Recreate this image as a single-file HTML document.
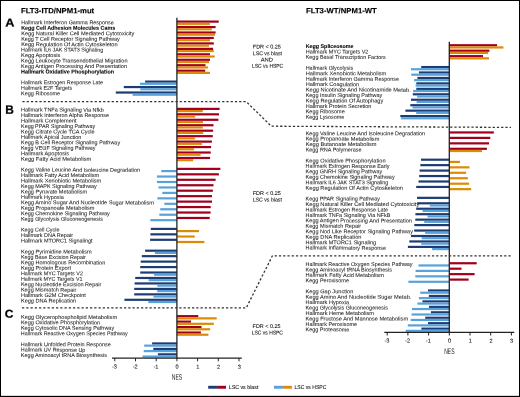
<!DOCTYPE html>
<html><head><meta charset="utf-8"><style>
html,body{margin:0;padding:0;background:#fff;}
svg{display:block;}
text{font-family:"Liberation Sans",sans-serif;text-rendering:geometricPrecision;}
.lab text{font-size:5.5px;fill:#1a1a1a;stroke:#222;stroke-width:0.05px;}
.lab text.b{font-weight:bold;fill:#000;stroke:#000;stroke-width:0.08px;}
</style></head><body>
<svg width="520" height="397" viewBox="0 0 520 397" style="will-change:transform">
<rect x="0" y="0" width="520" height="397" fill="#fff"/>
<g>
<g><rect x="176.9" y="20.5" width="41.8" height="2.2" fill="#a0001c"/>
<rect x="176.9" y="22.7" width="33.1" height="2.2" fill="#dd8b06"/>
<rect x="176.9" y="25.96" width="38.7" height="2.2" fill="#a0001c"/>
<rect x="176.9" y="28.16" width="34.8" height="2.2" fill="#dd8b06"/>
<rect x="176.9" y="31.41" width="38.7" height="2.2" fill="#a0001c"/>
<rect x="176.9" y="33.61" width="38.1" height="2.2" fill="#dd8b06"/>
<rect x="176.9" y="36.86" width="36.9" height="2.2" fill="#a0001c"/>
<rect x="176.9" y="39.06" width="33.1" height="2.2" fill="#dd8b06"/>
<rect x="176.9" y="42.32" width="36.9" height="2.2" fill="#a0001c"/>
<rect x="176.9" y="44.52" width="32.1" height="2.2" fill="#dd8b06"/>
<rect x="176.9" y="47.77" width="36.2" height="2.2" fill="#a0001c"/>
<rect x="176.9" y="49.97" width="36.9" height="2.2" fill="#dd8b06"/>
<rect x="176.9" y="53.23" width="33.1" height="2.2" fill="#a0001c"/>
<rect x="176.9" y="55.43" width="37.8" height="2.2" fill="#dd8b06"/>
<rect x="176.9" y="58.69" width="33.1" height="2.2" fill="#a0001c"/>
<rect x="176.9" y="60.89" width="32.1" height="2.2" fill="#dd8b06"/>
<rect x="176.9" y="64.14" width="28.6" height="2.2" fill="#a0001c"/>
<rect x="176.9" y="66.34" width="31" height="2.2" fill="#dd8b06"/>
<rect x="176.9" y="69.59" width="28.3" height="2.2" fill="#a0001c"/>
<rect x="176.9" y="71.8" width="33.1" height="2.2" fill="#dd8b06"/>
<rect x="145.1" y="80.5" width="31.8" height="2.2" fill="#1e3c74"/>
<rect x="140" y="82.7" width="36.9" height="2.2" fill="#58a2dc"/>
<rect x="123.8" y="85.96" width="53.1" height="2.2" fill="#1e3c74"/>
<rect x="140.3" y="88.16" width="36.6" height="2.2" fill="#58a2dc"/>
<rect x="115.8" y="91.42" width="61.1" height="2.2" fill="#1e3c74"/>
<rect x="132.6" y="93.62" width="44.3" height="2.2" fill="#58a2dc"/>
<rect x="176.9" y="107.78" width="42.7" height="2.2" fill="#a0001c"/>
<rect x="176.9" y="109.98" width="25.9" height="2.2" fill="#dd8b06"/>
<rect x="176.9" y="113.23" width="42.1" height="2.2" fill="#a0001c"/>
<rect x="176.9" y="115.44" width="18.3" height="2.2" fill="#dd8b06"/>
<rect x="176.9" y="118.69" width="41.5" height="2.2" fill="#a0001c"/>
<rect x="176.9" y="120.89" width="26.1" height="2.2" fill="#dd8b06"/>
<rect x="176.9" y="124.14" width="36.6" height="2.2" fill="#a0001c"/>
<rect x="176.9" y="126.34" width="25.9" height="2.2" fill="#dd8b06"/>
<rect x="176.9" y="129.6" width="36.2" height="2.2" fill="#a0001c"/>
<rect x="176.9" y="131.8" width="26.3" height="2.2" fill="#dd8b06"/>
<rect x="176.9" y="135.06" width="35.9" height="2.2" fill="#a0001c"/>
<rect x="176.9" y="137.25" width="18" height="2.2" fill="#dd8b06"/>
<rect x="176.9" y="140.51" width="35" height="2.2" fill="#a0001c"/>
<rect x="176.9" y="142.71" width="25.1" height="2.2" fill="#dd8b06"/>
<rect x="176.9" y="145.97" width="34.2" height="2.2" fill="#a0001c"/>
<rect x="176.9" y="148.16" width="17" height="2.2" fill="#dd8b06"/>
<rect x="176.9" y="151.42" width="33.8" height="2.2" fill="#a0001c"/>
<rect x="176.9" y="153.62" width="23.7" height="2.2" fill="#dd8b06"/>
<rect x="176.9" y="156.88" width="33.2" height="2.2" fill="#a0001c"/>
<rect x="176.9" y="159.07" width="16.2" height="2.2" fill="#dd8b06"/>
<rect x="176.9" y="167.78" width="43.5" height="2.2" fill="#a0001c"/>
<rect x="161.3" y="169.98" width="15.6" height="2.2" fill="#58a2dc"/>
<rect x="176.9" y="173.24" width="42" height="2.2" fill="#a0001c"/>
<rect x="156.9" y="175.44" width="20" height="2.2" fill="#58a2dc"/>
<rect x="176.9" y="178.69" width="38.7" height="2.2" fill="#a0001c"/>
<rect x="156.9" y="180.89" width="20" height="2.2" fill="#58a2dc"/>
<rect x="176.9" y="184.15" width="36.6" height="2.2" fill="#a0001c"/>
<rect x="158.5" y="186.35" width="18.4" height="2.2" fill="#58a2dc"/>
<rect x="176.9" y="189.6" width="36" height="2.2" fill="#a0001c"/>
<rect x="162.3" y="191.8" width="14.6" height="2.2" fill="#58a2dc"/>
<rect x="176.9" y="195.06" width="35.1" height="2.2" fill="#a0001c"/>
<rect x="157.4" y="197.26" width="19.5" height="2.2" fill="#58a2dc"/>
<rect x="176.9" y="200.52" width="35.1" height="2.2" fill="#a0001c"/>
<rect x="164.3" y="202.72" width="12.6" height="2.2" fill="#58a2dc"/>
<rect x="176.9" y="205.97" width="33.8" height="2.2" fill="#a0001c"/>
<rect x="160.2" y="208.17" width="16.7" height="2.2" fill="#58a2dc"/>
<rect x="176.9" y="211.43" width="33.7" height="2.2" fill="#a0001c"/>
<rect x="159.3" y="213.62" width="17.6" height="2.2" fill="#58a2dc"/>
<rect x="176.9" y="216.88" width="32.8" height="2.2" fill="#a0001c"/>
<rect x="150.3" y="219.08" width="26.6" height="2.2" fill="#58a2dc"/>
<rect x="150.8" y="227.79" width="26.1" height="2.2" fill="#1e3c74"/>
<rect x="176.9" y="229.99" width="22.1" height="2.2" fill="#dd8b06"/>
<rect x="150.4" y="233.25" width="26.5" height="2.2" fill="#1e3c74"/>
<rect x="176.9" y="235.44" width="17.9" height="2.2" fill="#dd8b06"/>
<rect x="150.1" y="238.7" width="26.8" height="2.2" fill="#1e3c74"/>
<rect x="176.9" y="240.9" width="27.5" height="2.2" fill="#dd8b06"/>
<rect x="145.1" y="249.61" width="31.8" height="2.2" fill="#1e3c74"/>
<rect x="154.9" y="251.81" width="22" height="2.2" fill="#58a2dc"/>
<rect x="141.8" y="255.06" width="35.1" height="2.2" fill="#1e3c74"/>
<rect x="140.7" y="260.52" width="36.2" height="2.2" fill="#1e3c74"/>
<rect x="140.2" y="265.98" width="36.7" height="2.2" fill="#1e3c74"/>
<rect x="140.2" y="271.43" width="36.7" height="2.2" fill="#1e3c74"/>
<rect x="154.1" y="273.63" width="22.8" height="2.2" fill="#58a2dc"/>
<rect x="135.2" y="276.88" width="41.7" height="2.2" fill="#1e3c74"/>
<rect x="148.6" y="279.08" width="28.3" height="2.2" fill="#58a2dc"/>
<rect x="134.6" y="282.34" width="42.3" height="2.2" fill="#1e3c74"/>
<rect x="157.3" y="284.54" width="19.6" height="2.2" fill="#58a2dc"/>
<rect x="134.2" y="287.8" width="42.7" height="2.2" fill="#1e3c74"/>
<rect x="157.2" y="290" width="19.7" height="2.2" fill="#58a2dc"/>
<rect x="134.2" y="293.25" width="42.7" height="2.2" fill="#1e3c74"/>
<rect x="153.4" y="295.45" width="23.5" height="2.2" fill="#58a2dc"/>
<rect x="124.4" y="298.7" width="52.5" height="2.2" fill="#1e3c74"/>
<rect x="148.3" y="300.9" width="28.6" height="2.2" fill="#58a2dc"/>
<rect x="176.9" y="315.07" width="21.4" height="2.2" fill="#a0001c"/>
<rect x="176.9" y="317.27" width="39.8" height="2.2" fill="#dd8b06"/>
<rect x="176.9" y="320.52" width="14.1" height="2.2" fill="#a0001c"/>
<rect x="176.9" y="322.72" width="36.9" height="2.2" fill="#dd8b06"/>
<rect x="176.9" y="325.98" width="24.6" height="2.2" fill="#a0001c"/>
<rect x="176.9" y="328.18" width="33.3" height="2.2" fill="#dd8b06"/>
<rect x="176.9" y="331.44" width="24" height="2.2" fill="#a0001c"/>
<rect x="176.9" y="333.63" width="31.5" height="2.2" fill="#dd8b06"/>
<rect x="152.1" y="342.35" width="24.8" height="2.2" fill="#1e3c74"/>
<rect x="144.2" y="344.55" width="32.7" height="2.2" fill="#58a2dc"/>
<rect x="153.3" y="347.8" width="23.6" height="2.2" fill="#1e3c74"/>
<rect x="143.7" y="350" width="33.2" height="2.2" fill="#58a2dc"/>
<rect x="157.9" y="353.25" width="19" height="2.2" fill="#1e3c74"/>
<rect x="142.5" y="355.45" width="34.4" height="2.2" fill="#58a2dc"/>
<rect x="449.3" y="44.15" width="47.8" height="2.2" fill="#a0001c"/>
<rect x="449.3" y="46.35" width="54.1" height="2.2" fill="#dd8b06"/>
<rect x="449.3" y="49.6" width="40.1" height="2.2" fill="#a0001c"/>
<rect x="449.3" y="51.8" width="38.9" height="2.2" fill="#dd8b06"/>
<rect x="449.3" y="55.05" width="33.7" height="2.2" fill="#a0001c"/>
<rect x="449.3" y="57.25" width="39.7" height="2.2" fill="#dd8b06"/>
<rect x="421.2" y="65.95" width="28.1" height="2.2" fill="#1e3c74"/>
<rect x="411" y="68.15" width="38.3" height="2.2" fill="#58a2dc"/>
<rect x="418.9" y="71.4" width="30.4" height="2.2" fill="#1e3c74"/>
<rect x="411.3" y="73.6" width="38" height="2.2" fill="#58a2dc"/>
<rect x="417.4" y="76.85" width="31.9" height="2.2" fill="#1e3c74"/>
<rect x="414.1" y="79.05" width="35.2" height="2.2" fill="#58a2dc"/>
<rect x="416.3" y="82.3" width="33" height="2.2" fill="#1e3c74"/>
<rect x="415.6" y="84.5" width="33.7" height="2.2" fill="#58a2dc"/>
<rect x="416.3" y="87.75" width="33" height="2.2" fill="#1e3c74"/>
<rect x="413.1" y="89.95" width="36.2" height="2.2" fill="#58a2dc"/>
<rect x="412.8" y="93.2" width="36.5" height="2.2" fill="#1e3c74"/>
<rect x="417.1" y="95.4" width="32.2" height="2.2" fill="#58a2dc"/>
<rect x="411" y="98.65" width="38.3" height="2.2" fill="#1e3c74"/>
<rect x="416.6" y="100.85" width="32.7" height="2.2" fill="#58a2dc"/>
<rect x="410.3" y="104.1" width="39" height="2.2" fill="#1e3c74"/>
<rect x="412.5" y="106.3" width="36.8" height="2.2" fill="#58a2dc"/>
<rect x="405.4" y="109.55" width="43.9" height="2.2" fill="#1e3c74"/>
<rect x="416.2" y="111.75" width="33.1" height="2.2" fill="#58a2dc"/>
<rect x="400.3" y="115" width="49" height="2.2" fill="#1e3c74"/>
<rect x="401.1" y="117.2" width="48.2" height="2.2" fill="#58a2dc"/>
<rect x="449.3" y="131.35" width="44.5" height="2.2" fill="#a0001c"/>
<rect x="449.3" y="136.8" width="41" height="2.2" fill="#a0001c"/>
<rect x="449.3" y="142.25" width="39.7" height="2.2" fill="#a0001c"/>
<rect x="449.3" y="147.7" width="37.6" height="2.2" fill="#a0001c"/>
<rect x="449.3" y="149.9" width="32.7" height="2.2" fill="#dd8b06"/>
<rect x="421" y="158.6" width="28.3" height="2.2" fill="#1e3c74"/>
<rect x="449.3" y="160.8" width="10.7" height="2.2" fill="#dd8b06"/>
<rect x="420.3" y="164.05" width="29" height="2.2" fill="#1e3c74"/>
<rect x="449.3" y="166.25" width="20.2" height="2.2" fill="#dd8b06"/>
<rect x="419.6" y="169.5" width="29.7" height="2.2" fill="#1e3c74"/>
<rect x="449.3" y="171.7" width="16.8" height="2.2" fill="#dd8b06"/>
<rect x="419.2" y="174.95" width="30.1" height="2.2" fill="#1e3c74"/>
<rect x="449.3" y="177.15" width="18.6" height="2.2" fill="#dd8b06"/>
<rect x="418.5" y="180.4" width="30.8" height="2.2" fill="#1e3c74"/>
<rect x="449.3" y="182.6" width="19.8" height="2.2" fill="#dd8b06"/>
<rect x="416.2" y="185.85" width="33.1" height="2.2" fill="#1e3c74"/>
<rect x="449.3" y="188.05" width="21.9" height="2.2" fill="#dd8b06"/>
<rect x="417" y="196.75" width="32.3" height="2.2" fill="#1e3c74"/>
<rect x="417.2" y="202.2" width="32.1" height="2.2" fill="#1e3c74"/>
<rect x="429.8" y="204.4" width="19.5" height="2.2" fill="#58a2dc"/>
<rect x="416.2" y="207.65" width="33.1" height="2.2" fill="#1e3c74"/>
<rect x="422.5" y="209.85" width="26.8" height="2.2" fill="#58a2dc"/>
<rect x="415.4" y="213.1" width="33.9" height="2.2" fill="#1e3c74"/>
<rect x="427.5" y="215.3" width="21.8" height="2.2" fill="#58a2dc"/>
<rect x="415.3" y="218.55" width="34" height="2.2" fill="#1e3c74"/>
<rect x="424.2" y="220.75" width="25.1" height="2.2" fill="#58a2dc"/>
<rect x="414.3" y="224" width="35" height="2.2" fill="#1e3c74"/>
<rect x="414.2" y="229.45" width="35.1" height="2.2" fill="#1e3c74"/>
<rect x="425.1" y="231.65" width="24.2" height="2.2" fill="#58a2dc"/>
<rect x="411" y="234.9" width="38.3" height="2.2" fill="#1e3c74"/>
<rect x="421.7" y="237.1" width="27.6" height="2.2" fill="#58a2dc"/>
<rect x="409.3" y="240.35" width="40" height="2.2" fill="#1e3c74"/>
<rect x="421.2" y="242.55" width="28.1" height="2.2" fill="#58a2dc"/>
<rect x="407.9" y="245.8" width="41.4" height="2.2" fill="#1e3c74"/>
<rect x="432.1" y="248" width="17.2" height="2.2" fill="#58a2dc"/>
<rect x="449.3" y="262.15" width="27.4" height="2.2" fill="#a0001c"/>
<rect x="418.5" y="264.35" width="30.8" height="2.2" fill="#58a2dc"/>
<rect x="449.3" y="267.6" width="12.2" height="2.2" fill="#a0001c"/>
<rect x="415.6" y="269.8" width="33.7" height="2.2" fill="#58a2dc"/>
<rect x="449.3" y="273.05" width="25.3" height="2.2" fill="#a0001c"/>
<rect x="415.3" y="275.25" width="34" height="2.2" fill="#58a2dc"/>
<rect x="449.3" y="278.5" width="19.3" height="2.2" fill="#a0001c"/>
<rect x="408.4" y="280.7" width="40.9" height="2.2" fill="#58a2dc"/>
<rect x="428" y="289.4" width="21.3" height="2.2" fill="#1e3c74"/>
<rect x="420.2" y="291.6" width="29.1" height="2.2" fill="#58a2dc"/>
<rect x="428.8" y="294.85" width="20.5" height="2.2" fill="#1e3c74"/>
<rect x="418.9" y="297.05" width="30.4" height="2.2" fill="#58a2dc"/>
<rect x="422.4" y="300.3" width="26.9" height="2.2" fill="#1e3c74"/>
<rect x="417.4" y="302.5" width="31.9" height="2.2" fill="#58a2dc"/>
<rect x="429" y="305.75" width="20.3" height="2.2" fill="#1e3c74"/>
<rect x="412" y="307.95" width="37.3" height="2.2" fill="#58a2dc"/>
<rect x="430.9" y="311.2" width="18.4" height="2.2" fill="#1e3c74"/>
<rect x="411.6" y="313.4" width="37.7" height="2.2" fill="#58a2dc"/>
<rect x="425.2" y="316.65" width="24.1" height="2.2" fill="#1e3c74"/>
<rect x="410.7" y="318.85" width="38.6" height="2.2" fill="#58a2dc"/>
<rect x="428" y="322.1" width="21.3" height="2.2" fill="#1e3c74"/>
<rect x="407.8" y="324.3" width="41.5" height="2.2" fill="#58a2dc"/>
<rect x="421.4" y="327.55" width="27.9" height="2.2" fill="#1e3c74"/>
<rect x="405.7" y="329.75" width="43.6" height="2.2" fill="#58a2dc"/></g>
<g class="lab" transform="rotate(0.05 21 190)"><text x="21" y="24.3" textLength="92.6" lengthAdjust="spacingAndGlyphs">Hallmark Interferon Gamma Response</text>
<text x="21" y="29.76" class="b" textLength="94" lengthAdjust="spacingAndGlyphs">Kegg Cell Adhesion Molecules Cams</text>
<text x="21" y="35.21" textLength="113.3" lengthAdjust="spacingAndGlyphs">Kegg Natural Killer Cell Mediated Cytotoxicity</text>
<text x="21" y="40.66" textLength="98.6" lengthAdjust="spacingAndGlyphs">Kegg T Cell Receptor Signaling Pathway</text>
<text x="21" y="46.12" textLength="96.4" lengthAdjust="spacingAndGlyphs">Kegg Regulation Of Actin Cytoskeleton</text>
<text x="21" y="51.57" textLength="82" lengthAdjust="spacingAndGlyphs">Hallmark IL6 JAK STAT3 Signaling</text>
<text x="21" y="57.03" textLength="39.3" lengthAdjust="spacingAndGlyphs">Kegg Apoptosis</text>
<text x="21" y="62.49" textLength="106.4" lengthAdjust="spacingAndGlyphs">Kegg Leukocyte Transendothelial Migration</text>
<text x="21" y="67.94" textLength="105.9" lengthAdjust="spacingAndGlyphs">Kegg Antigen Processing And Presentation</text>
<text x="21" y="73.39" class="b" textLength="92.9" lengthAdjust="spacingAndGlyphs">Hallmark Oxidative Phosphorylation</text>
<text x="21" y="84.3" textLength="81.8" lengthAdjust="spacingAndGlyphs">Hallmark Estrogen Response Late</text>
<text x="21" y="89.76" textLength="51" lengthAdjust="spacingAndGlyphs">Hallmark E2F Targets</text>
<text x="21" y="95.22" textLength="39.1" lengthAdjust="spacingAndGlyphs">Kegg Ribosome</text>
<text x="21" y="111.58" textLength="82.8" lengthAdjust="spacingAndGlyphs">Hallmark TNFa Signaling Via Nfkb</text>
<text x="21" y="117.03" textLength="88" lengthAdjust="spacingAndGlyphs">Hallmark Interferon Alpha Response</text>
<text x="21" y="122.49" textLength="55.5" lengthAdjust="spacingAndGlyphs">Hallmark Complement</text>
<text x="21" y="127.94" textLength="74.1" lengthAdjust="spacingAndGlyphs">Kegg PPAR Signaling Pathway</text>
<text x="21" y="133.4" textLength="73.5" lengthAdjust="spacingAndGlyphs">Kegg Citrate Cycle TCA Cycle</text>
<text x="21" y="138.85" textLength="60.3" lengthAdjust="spacingAndGlyphs">Hallmark Apical Junction</text>
<text x="21" y="144.31" textLength="99.1" lengthAdjust="spacingAndGlyphs">Kegg B Cell Receptor Signaling Pathway</text>
<text x="21" y="149.76" textLength="74.5" lengthAdjust="spacingAndGlyphs">Kegg VEGF Signaling Pathway</text>
<text x="21" y="155.22" textLength="48.1" lengthAdjust="spacingAndGlyphs">Hallmark Apoptosis</text>
<text x="21" y="160.67" textLength="70.3" lengthAdjust="spacingAndGlyphs">Kegg Fatty Acid Metabolism</text>
<text x="21" y="171.58" textLength="119.1" lengthAdjust="spacingAndGlyphs">Kegg Valine Leucine And Isoleucine Degradation</text>
<text x="21" y="177.04" textLength="78.1" lengthAdjust="spacingAndGlyphs">Hallmark Fatty Acid Metabolism</text>
<text x="21" y="182.49" textLength="80.1" lengthAdjust="spacingAndGlyphs">Hallmark Xenobiotic Metabolism</text>
<text x="21" y="187.95" textLength="75.8" lengthAdjust="spacingAndGlyphs">Kegg MAPK Signaling Pathway</text>
<text x="21" y="193.4" textLength="66.2" lengthAdjust="spacingAndGlyphs">Kegg Pyruvate Metabolism</text>
<text x="21" y="198.86" textLength="42.8" lengthAdjust="spacingAndGlyphs">Hallmark Hypoxia</text>
<text x="21" y="204.31" textLength="133" lengthAdjust="spacingAndGlyphs">Kegg Amino Sugar And Nucleotide Sugar Metabolism</text>
<text x="21" y="209.77" textLength="73.5" lengthAdjust="spacingAndGlyphs">Kegg Propanoate Metabolism</text>
<text x="21" y="215.22" textLength="88.7" lengthAdjust="spacingAndGlyphs">Kegg Chemokine Signaling Pathway</text>
<text x="21" y="220.68" textLength="82" lengthAdjust="spacingAndGlyphs">Kegg Glycolysis Gluconeogenesis</text>
<text x="21" y="231.59" textLength="38.5" lengthAdjust="spacingAndGlyphs">Kegg Cell Cycle</text>
<text x="21" y="237.04" textLength="52" lengthAdjust="spacingAndGlyphs">Hallmark DNA Repair</text>
<text x="21" y="242.5" textLength="71.6" lengthAdjust="spacingAndGlyphs">Hallmark MTORC1 Signalingt</text>
<text x="21" y="253.41" textLength="70.8" lengthAdjust="spacingAndGlyphs">Kegg Pyrimidine Metabolism</text>
<text x="21" y="258.87" textLength="64.9" lengthAdjust="spacingAndGlyphs">Kegg Base Excision Repair</text>
<text x="21" y="264.32" textLength="84.3" lengthAdjust="spacingAndGlyphs">Kegg Homologous Recombination</text>
<text x="21" y="269.78" textLength="50.1" lengthAdjust="spacingAndGlyphs">Kegg Protein Export</text>
<text x="21" y="275.23" textLength="62" lengthAdjust="spacingAndGlyphs">Hallmark MYC Targets V2</text>
<text x="21" y="280.69" textLength="61.6" lengthAdjust="spacingAndGlyphs">Hallmark MYC Targets V1</text>
<text x="21" y="286.14" textLength="80.5" lengthAdjust="spacingAndGlyphs">Kegg Nucleotide Excision Repair</text>
<text x="21" y="291.6" textLength="55.5" lengthAdjust="spacingAndGlyphs">Kegg Mismatch Repair</text>
<text x="21" y="297.05" textLength="64.9" lengthAdjust="spacingAndGlyphs">Hallmark G2M Checkpoint</text>
<text x="21" y="302.5" textLength="55.3" lengthAdjust="spacingAndGlyphs">Kegg DNA Replication</text>
<text x="21" y="318.87" textLength="96.2" lengthAdjust="spacingAndGlyphs">Kegg Glycerophospholipid Metabolism</text>
<text x="21" y="324.32" textLength="79.3" lengthAdjust="spacingAndGlyphs">Kegg Oxidative Phosphorylation</text>
<text x="21" y="329.78" textLength="93.3" lengthAdjust="spacingAndGlyphs">Kegg Cytosolic DNA Sensing Pathway</text>
<text x="21" y="335.24" textLength="106.8" lengthAdjust="spacingAndGlyphs">Hallmark Reactive Oxygen Species Pathway</text>
<text x="21" y="346.15" textLength="89.9" lengthAdjust="spacingAndGlyphs">Hallmark Unfolded Protein Response</text>
<text x="21" y="351.6" textLength="64.5" lengthAdjust="spacingAndGlyphs">Hallmark UV Response Up</text>
<text x="21" y="357.06" textLength="86.2" lengthAdjust="spacingAndGlyphs">Kegg Aminoacyl tRNA Biosynthesis</text></g>
<g class="lab" transform="rotate(0.05 306 190)"><text x="305.6" y="47.95" class="b" textLength="47.8" lengthAdjust="spacingAndGlyphs">Kegg Spliceosome</text>
<text x="305.6" y="53.4" textLength="62.6" lengthAdjust="spacingAndGlyphs">Hallmark MYC Targets V2</text>
<text x="305.6" y="58.85" textLength="80.1" lengthAdjust="spacingAndGlyphs">Kegg Basal Transcription Factors</text>
<text x="305.6" y="69.75" textLength="47.4" lengthAdjust="spacingAndGlyphs">Hallmark Glycolysis</text>
<text x="305.6" y="75.2" textLength="80.5" lengthAdjust="spacingAndGlyphs">Hallmark Xenobiotic Metabolism</text>
<text x="305.6" y="80.65" textLength="93.4" lengthAdjust="spacingAndGlyphs">Hallmark Interferon Gamma Response</text>
<text x="305.6" y="86.1" textLength="53.5" lengthAdjust="spacingAndGlyphs">Hallmark Coagulation</text>
<text x="305.6" y="91.55" textLength="105.1" lengthAdjust="spacingAndGlyphs">Kegg Nicotinate And Nicotinamide Metab.</text>
<text x="305.6" y="97" textLength="76.6" lengthAdjust="spacingAndGlyphs">Kegg Insulin Signaling Pathway</text>
<text x="305.6" y="102.45" textLength="77.6" lengthAdjust="spacingAndGlyphs">Kegg Regulation Of Autophagy</text>
<text x="305.6" y="107.9" textLength="65.7" lengthAdjust="spacingAndGlyphs">Hallmark Protein Secretion</text>
<text x="305.6" y="113.35" textLength="39.1" lengthAdjust="spacingAndGlyphs">Kegg Ribosome</text>
<text x="305.6" y="118.8" textLength="38.7" lengthAdjust="spacingAndGlyphs">Kegg Lysosome</text>
<text x="305.6" y="135.15" textLength="119.5" lengthAdjust="spacingAndGlyphs">Kegg Valine Leucine And Isoleucine Degradation</text>
<text x="305.6" y="140.6" textLength="73.7" lengthAdjust="spacingAndGlyphs">Kegg Propanoate Metabolism</text>
<text x="305.6" y="146.05" textLength="70.9" lengthAdjust="spacingAndGlyphs">Kegg Butanoate Metabolism</text>
<text x="305.6" y="151.5" textLength="55.9" lengthAdjust="spacingAndGlyphs">Kegg RNA Polymerase</text>
<text x="305.6" y="162.4" textLength="79.9" lengthAdjust="spacingAndGlyphs">Kegg Oxidative Phosphorylation</text>
<text x="305.6" y="167.85" textLength="83.9" lengthAdjust="spacingAndGlyphs">Hallmark Estrogen Response Early</text>
<text x="305.6" y="173.3" textLength="76.6" lengthAdjust="spacingAndGlyphs">Kegg GNRH Signaling Pathway</text>
<text x="305.6" y="178.75" textLength="89.1" lengthAdjust="spacingAndGlyphs">Kegg Chemokine Signaling Pathway</text>
<text x="305.6" y="184.2" textLength="82.7" lengthAdjust="spacingAndGlyphs">Hallmark IL6 JAK STAT3 Signaling</text>
<text x="305.6" y="189.65" textLength="97.4" lengthAdjust="spacingAndGlyphs">Kegg Regulation Of Actin Cytoskeleton</text>
<text x="305.6" y="200.55" textLength="74.3" lengthAdjust="spacingAndGlyphs">Kegg PPAR Signaling Pathway</text>
<text x="305.6" y="206" textLength="113.7" lengthAdjust="spacingAndGlyphs">Kegg Natural Killer Cell Mediated Cytotoxicity</text>
<text x="305.6" y="211.45" textLength="82.4" lengthAdjust="spacingAndGlyphs">Hallmark Estrogen Response Late</text>
<text x="305.6" y="216.9" textLength="84.7" lengthAdjust="spacingAndGlyphs">Hallmark TNFa Signaling Via NFkB</text>
<text x="305.6" y="222.35" textLength="106.4" lengthAdjust="spacingAndGlyphs">Kegg Antigen Processing And Presentation</text>
<text x="305.6" y="227.8" textLength="55.5" lengthAdjust="spacingAndGlyphs">Kegg Mismatch Repair</text>
<text x="305.6" y="233.25" textLength="107.4" lengthAdjust="spacingAndGlyphs">Kegg Nod Like Receptor Signaling Pathway</text>
<text x="305.6" y="238.7" textLength="55.9" lengthAdjust="spacingAndGlyphs">Kegg DNA Replication</text>
<text x="305.6" y="244.15" textLength="70.5" lengthAdjust="spacingAndGlyphs">Hallmark MTORC1 Signaling</text>
<text x="305.6" y="249.6" textLength="80.5" lengthAdjust="spacingAndGlyphs">Hallmark Inflammatory Response</text>
<text x="305.6" y="265.95" textLength="107" lengthAdjust="spacingAndGlyphs">Hallmark Reactive Oxygen Species Pathway</text>
<text x="305.6" y="271.4" textLength="86.6" lengthAdjust="spacingAndGlyphs">Kegg Aminoacyl tRNA Biosynthesis</text>
<text x="305.6" y="276.85" textLength="78.5" lengthAdjust="spacingAndGlyphs">Hallmark Fatty Acid Metabolism</text>
<text x="305.6" y="282.3" textLength="43.5" lengthAdjust="spacingAndGlyphs">Kegg Peroxisome</text>
<text x="305.6" y="293.2" textLength="47.8" lengthAdjust="spacingAndGlyphs">Kegg Gap Junction</text>
<text x="305.6" y="298.65" textLength="105.9" lengthAdjust="spacingAndGlyphs">Kegg Amino And Nucleotide Sugar Metab.</text>
<text x="305.6" y="304.1" textLength="43.5" lengthAdjust="spacingAndGlyphs">Hallmark Hypoxia</text>
<text x="305.6" y="309.55" textLength="82.4" lengthAdjust="spacingAndGlyphs">Kegg Glycolysis Gluconeogenesis</text>
<text x="305.6" y="315" textLength="68.5" lengthAdjust="spacingAndGlyphs">Hallmark Heme Metabolism</text>
<text x="305.6" y="320.45" textLength="102.6" lengthAdjust="spacingAndGlyphs">Kegg Fructose And Mannose Metabolism</text>
<text x="305.6" y="325.9" textLength="51.6" lengthAdjust="spacingAndGlyphs">Hallmark Peroxisome</text>
<text x="305.6" y="331.35" textLength="43.9" lengthAdjust="spacingAndGlyphs">Kegg Proteasome</text></g>
<g stroke="#222" fill="none"><line x1="176.9" y1="17.7" x2="176.9" y2="358.6" stroke-width="1.3"/><line x1="449.3" y1="41.7" x2="449.3" y2="332.8" stroke-width="1.3"/><line x1="112" y1="358.1" x2="241.8" y2="358.1" stroke-width="1.2"/><line x1="384.3" y1="332.3" x2="514.3" y2="332.3" stroke-width="1.2"/><line x1="114.8" y1="358" x2="114.8" y2="361.3" stroke-width="1"/><line x1="387.2" y1="332.2" x2="387.2" y2="335.5" stroke-width="1"/><line x1="135.5" y1="358" x2="135.5" y2="361.3" stroke-width="1"/><line x1="407.9" y1="332.2" x2="407.9" y2="335.5" stroke-width="1"/><line x1="156.2" y1="358" x2="156.2" y2="361.3" stroke-width="1"/><line x1="428.6" y1="332.2" x2="428.6" y2="335.5" stroke-width="1"/><line x1="176.9" y1="358" x2="176.9" y2="361.3" stroke-width="1"/><line x1="449.3" y1="332.2" x2="449.3" y2="335.5" stroke-width="1"/><line x1="197.6" y1="358" x2="197.6" y2="361.3" stroke-width="1"/><line x1="470" y1="332.2" x2="470" y2="335.5" stroke-width="1"/><line x1="218.3" y1="358" x2="218.3" y2="361.3" stroke-width="1"/><line x1="490.7" y1="332.2" x2="490.7" y2="335.5" stroke-width="1"/><line x1="239" y1="358" x2="239" y2="361.3" stroke-width="1"/><line x1="511.4" y1="332.2" x2="511.4" y2="335.5" stroke-width="1"/></g>
<g font-size="5.6" fill="#111" stroke="#111" stroke-width="0.06" text-anchor="middle" transform="rotate(0.05 177 366)"><text x="114.5" y="368.6">-3</text><text x="135.2" y="368.6">-2</text><text x="155.9" y="368.6">-1</text><text x="177.2" y="368.6">0</text><text x="197.9" y="368.6">1</text><text x="218.6" y="368.6">2</text><text x="239.3" y="368.6">3</text></g>
<g font-size="5.6" fill="#111" stroke="#111" stroke-width="0.06" text-anchor="middle" transform="rotate(0.05 449 340)"><text x="386.9" y="342.6">-3</text><text x="407.6" y="342.6">-2</text><text x="428.3" y="342.6">-1</text><text x="449.6" y="342.6">0</text><text x="470.3" y="342.6">1</text><text x="491" y="342.6">2</text><text x="511.7" y="342.6">3</text></g>
<g font-size="8.1" fill="#222" text-anchor="middle" transform="rotate(0.05 177 377)"><text x="177" y="379.7" textLength="10.4" lengthAdjust="spacingAndGlyphs">NES</text></g>
<g font-size="8.1" fill="#222" text-anchor="middle" transform="rotate(0.05 449 351)"><text x="449.4" y="353.9" textLength="10.4" lengthAdjust="spacingAndGlyphs">NES</text></g>
<g stroke="#333" stroke-width="1.3" fill="none" stroke-dasharray="2.25 2"><polyline points="22.4,101.7 246.3,101.7 271.3,126.2 511,127.4"/><polyline points="22,307.8 246.3,307.8 272.4,255.8 511,255.8"/></g>
<g font-weight="bold" fill="#000" stroke="#000" stroke-width="0.15" font-size="7.6" transform="rotate(0.05 60 10)"><text x="21" y="13.2" textLength="73.2" lengthAdjust="spacingAndGlyphs">FLT3-ITD/NPM1-mut</text></g>
<g font-weight="bold" fill="#000" stroke="#000" stroke-width="0.15" font-size="7.6" transform="rotate(0.05 340 10)"><text x="306" y="13.2" textLength="70.8" lengthAdjust="spacingAndGlyphs">FLT3-WT/NPM1-WT</text></g>
<g font-weight="bold" fill="#000" stroke="#000" stroke-width="0.25" transform="rotate(0.05 10 200)"><text x="5.0" y="26.6" font-size="11.4" textLength="9.2" lengthAdjust="spacingAndGlyphs">A</text><text x="5.1" y="113.8" font-size="12.1" textLength="8.6" lengthAdjust="spacingAndGlyphs">B</text><text x="4.9" y="317.8" font-size="11.6" textLength="8.6" lengthAdjust="spacingAndGlyphs">C</text></g>
<g font-size="5.5" fill="#111" stroke="#111" stroke-width="0.08" transform="rotate(0.05 267 190)"><text x="252.7" y="48.6" textLength="28.1" lengthAdjust="spacingAndGlyphs">FDR &lt; 0.25</text><text x="252.7" y="55.2" textLength="29.2" lengthAdjust="spacingAndGlyphs">LSC vs blast</text><text x="260.6" y="61.5" textLength="12.3" lengthAdjust="spacingAndGlyphs">AND</text><text x="251.9" y="67.7" textLength="31.2" lengthAdjust="spacingAndGlyphs">LSC vs HSPC</text><text x="252.7" y="195" textLength="28.1" lengthAdjust="spacingAndGlyphs">FDR &lt; 0.25</text><text x="252.7" y="201.5" textLength="29.2" lengthAdjust="spacingAndGlyphs">LSC vs blast</text><text x="252.7" y="328" textLength="27.9" lengthAdjust="spacingAndGlyphs">FDR &lt; 0.25</text><text x="251.9" y="334.5" textLength="31.2" lengthAdjust="spacingAndGlyphs">LSC vs HSPC</text></g>
<rect x="208.2" y="385.8" width="8.9" height="2.9" fill="#1e3c74"/><rect x="217.1" y="385.8" width="8.9" height="2.9" fill="#a0001c"/><rect x="274" y="385.8" width="8.9" height="2.9" fill="#58a2dc"/><rect x="282.9" y="385.8" width="9" height="2.9" fill="#dd8b06"/><g font-size="5.5" fill="#111" stroke="#111" stroke-width="0.08" transform="rotate(0.05 270 387)"><text x="228.7" y="389" textLength="29.7" lengthAdjust="spacingAndGlyphs">LSC vs blast</text><text x="294.5" y="389" textLength="31.8" lengthAdjust="spacingAndGlyphs">LSC vs HSPC</text></g>
<g fill="#000"><rect x="0" y="0" width="520" height="1"/><rect x="0" y="0" width="1" height="397"/><rect x="519" y="0" width="1" height="397"/><rect x="0" y="395.85" width="520" height="1.15"/></g>
</g></svg></body></html>
